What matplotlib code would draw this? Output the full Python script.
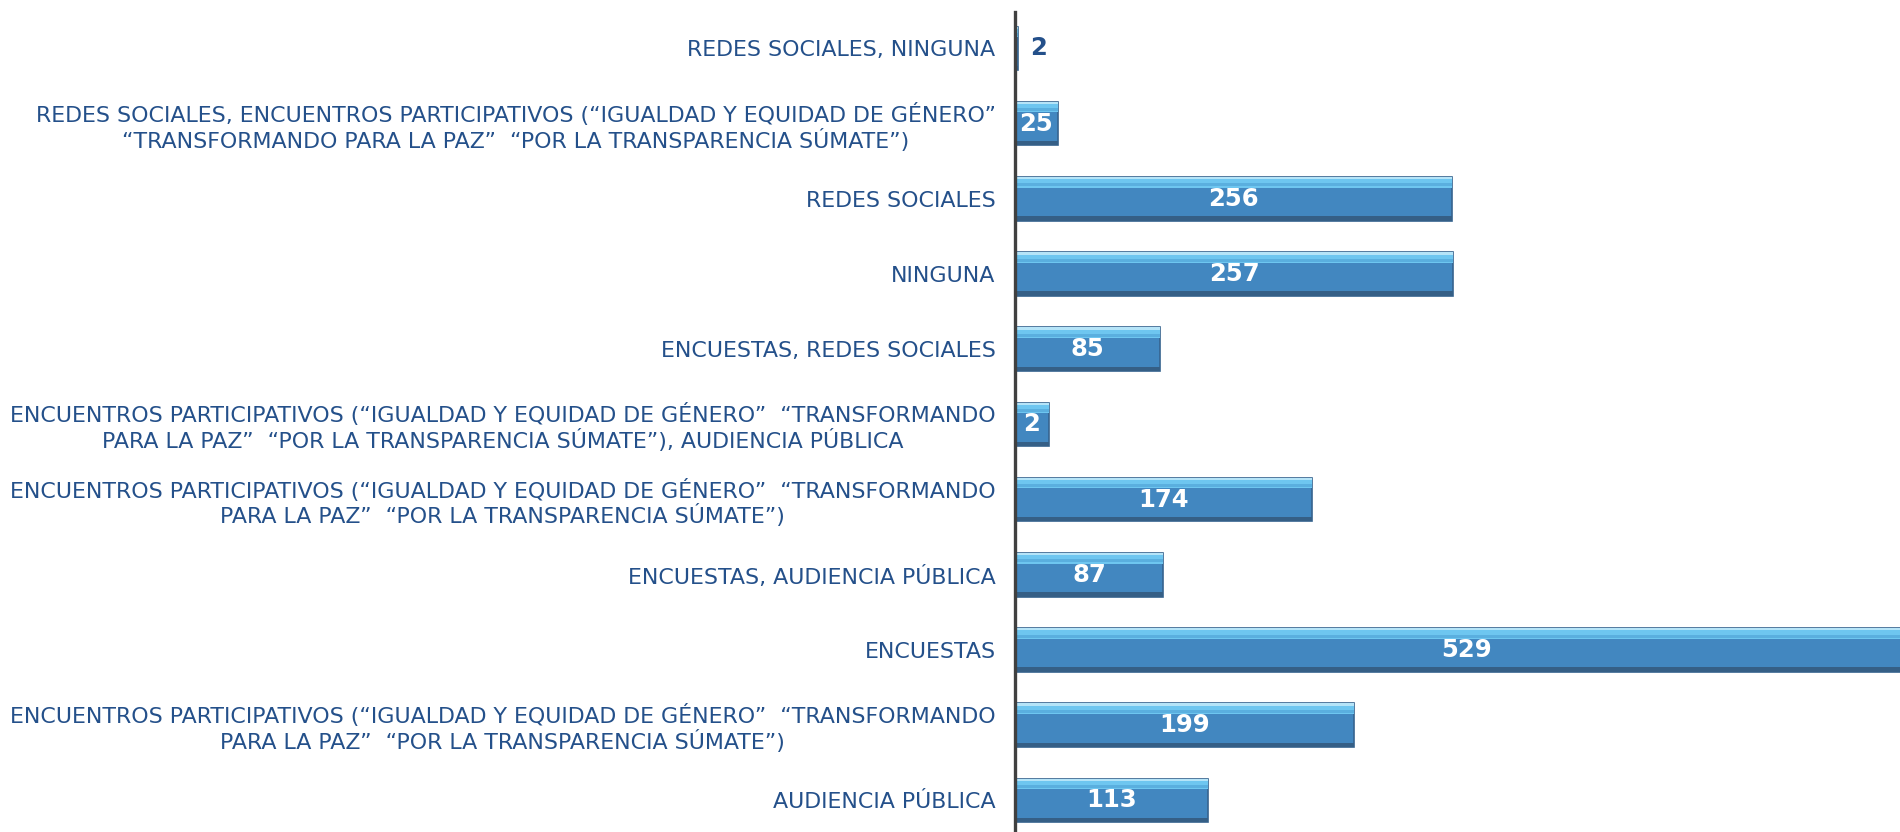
import matplotlib.pyplot as plt

# datos (de abajo hacia arriba)
categorias = [
    "AUDIENCIA PÚBLICA",
    "ENCUENTROS PARTICIPATIVOS (“IGUALDAD Y EQUIDAD DE GÉNERO”  “TRANSFORMANDO\nPARA LA PAZ”  “POR LA TRANSPARENCIA SÚMATE”)",
    "ENCUESTAS",
    "ENCUESTAS, AUDIENCIA PÚBLICA",
    "ENCUENTROS PARTICIPATIVOS (“IGUALDAD Y EQUIDAD DE GÉNERO”  “TRANSFORMANDO\nPARA LA PAZ”  “POR LA TRANSPARENCIA SÚMATE”)",
    "ENCUENTROS PARTICIPATIVOS (“IGUALDAD Y EQUIDAD DE GÉNERO”  “TRANSFORMANDO\nPARA LA PAZ”  “POR LA TRANSPARENCIA SÚMATE”), AUDIENCIA PÚBLICA",
    "ENCUESTAS, REDES SOCIALES",
    "NINGUNA",
    "REDES SOCIALES",
    "REDES SOCIALES, ENCUENTROS PARTICIPATIVOS (“IGUALDAD Y EQUIDAD DE GÉNERO”\n“TRANSFORMANDO PARA LA PAZ”  “POR LA TRANSPARENCIA SÚMATE”)",
    "REDES SOCIALES, NINGUNA",
]
valores = [113, 199, 529, 87, 174, 20, 85, 257, 256, 25, 2]
etiquetas = ["113", "199", "529", "87", "174", "2", "85", "257", "256", "25", "2"]

azul_texto = "#24508A"
azul_barra = "#4287C0"
azul_claro = "#6EC6F0"
azul_oscuro = "#355F86"

fig = plt.figure(figsize=(19, 8.32), dpi=100)
ax = fig.add_axes([1015 / 1900, 0, 885 / 1900, 820 / 832])

pos = list(range(len(valores)))
alto = 0.58

ax.barh(pos, valores, height=alto, color=azul_barra, edgecolor="#36648F", linewidth=1.2, zorder=2)
# brillo superior y sombra inferior (efecto biselado)
ax.barh([p + alto / 2 - 0.085 for p in pos], valores, height=0.11, color=azul_claro, linewidth=0, zorder=3)
ax.barh([p + alto / 2 - 0.105 for p in pos], valores, height=0.04, color="#5AAFDF", linewidth=0, zorder=3)
ax.barh([p + alto / 2 - 0.015 for p in pos], valores, height=0.03, color="#B5E4F8", linewidth=0, zorder=3)
ax.barh([p - alto / 2 + 0.03 for p in pos], valores, height=0.06, color=azul_oscuro, linewidth=0, zorder=3)

for p, v, t in zip(pos, valores, etiquetas):
    if v < 10:
        ax.text(v + 7, p, t, ha="left", va="center", color=azul_texto,
                fontsize=17.5, fontweight="bold", zorder=4)
    else:
        ax.text(v / 2, p, t, ha="center", va="center", color="white",
                fontsize=17.5, fontweight="bold", zorder=4)

ax.set_xlim(0, 519)
ax.set_ylim(-0.42, 10.485)
ax.set_yticks(pos)
ax.set_yticklabels(categorias, fontsize=15.9, color=azul_texto, multialignment="center",
                   linespacing=1.15)
ax.tick_params(axis="y", length=0, pad=14)
ax.set_xticks([])

for s in ["top", "right", "bottom"]:
    ax.spines[s].set_visible(False)
ax.spines["left"].set_color("#404040")
ax.spines["left"].set_linewidth(2.4)
ax.spines["left"].set_zorder(5)

fig.savefig("out.png", dpi=100)
